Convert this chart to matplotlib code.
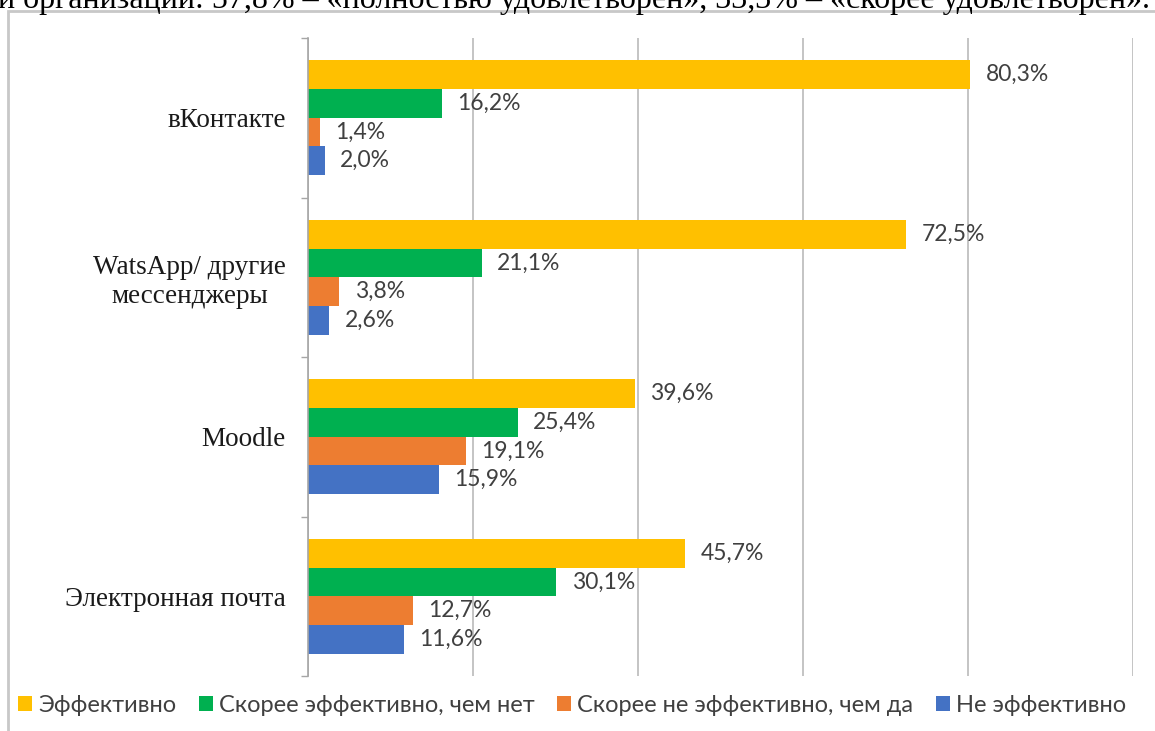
import matplotlib.pyplot as plt
from matplotlib.patches import Patch, Rectangle

categories = ["вКонтакте", "WatsApp/ другие\nмессенджеры", "Moodle", "Электронная почта"]
series_names = ["Эффективно", "Скорее эффективно, чем нет",
                "Скорее не эффективно, чем да", "Не эффективно"]
effective = [80.3, 72.5, 39.6, 45.7]
rather_effective = [16.2, 21.1, 25.4, 30.1]
rather_not = [1.4, 3.8, 19.1, 12.7]
not_effective = [2.0, 2.6, 15.9, 11.6]
colors = ["#FFC000", "#00B050", "#ED7D31", "#4472C4"]
top_text = "и организации: 57,8% – «полностью удовлетворен», 33,3% – «скорее удовлетворен»."

W, H = 1155, 731
fig = plt.figure(figsize=(W / 100, H / 100), dpi=100)
ax = fig.add_axes([308 / W, 1 - 676 / H, (1133 - 308) / W, (676 - 38) / H])

series = [effective, rather_effective, rather_not, not_effective]
bar_h = 0.18
ypos = list(range(len(categories)))
for i, vals in enumerate(series):
    ys = [y + (i - 1.5) * bar_h for y in ypos]
    bars = ax.barh(ys, vals, height=bar_h, color=colors[i], zorder=3)
    for b, v in zip(bars, vals):
        ax.annotate(f"{v:.1f}%".replace(".", ","),
                    (b.get_width(), b.get_y() + b.get_height() / 2),
                    xytext=(11, 0), textcoords="offset points",
                    va="center", ha="left", fontsize=16.5, color="#404040",
                    family="Lato")

ax.set_xlim(0, 100)
ax.set_ylim(3.5, -0.5)
ax.set_xticks([0, 20, 40, 60, 80, 100])
ax.tick_params(axis="x", length=0, labelbottom=False)
ax.grid(axis="x", color="#BFBFBF", lw=1.3, zorder=0)

ax.set_yticks(ypos)
ax.set_yticklabels(categories, family="Liberation Serif", fontsize=19.5, color="#1a1a1a")
for lab in ax.get_yticklabels():
    lab.set_multialignment("center")
ax.tick_params(axis="y", length=0, pad=16)
ax.set_yticks([-0.5, 0.5, 1.5, 2.5, 3.5], minor=True)
ax.tick_params(axis="y", which="minor", length=5, color="#A6A6A6", width=1)

for s in ["top", "right", "bottom"]:
    ax.spines[s].set_visible(False)
ax.spines["left"].set_color("#A6A6A6")
ax.spines["left"].set_linewidth(1.2)
ax.spines["left"].set_zorder(4)

handles = [Patch(facecolor=c, edgecolor="none") for c in colors]
fig.legend(handles, series_names, loc="center", bbox_to_anchor=(572 / W, 1 - 705 / H),
           ncol=4, frameon=False, handlelength=0.6, handleheight=0.6,
           handletextpad=0.25, columnspacing=0.95,
           prop={"family": "Lato", "size": 17}, labelcolor="#404040")

fig.add_artist(Rectangle((8 / W, -0.1), 1.2, (H - 11) / H + 0.1, transform=fig.transFigure,
                         fill=False, edgecolor="#C8C8C8", lw=2))
fig.text(-0.002, 1 - 8 / H, top_text, family="Liberation Serif", fontsize=23,
         va="baseline", ha="left", color="black")

fig.savefig("out.png", dpi=100)
